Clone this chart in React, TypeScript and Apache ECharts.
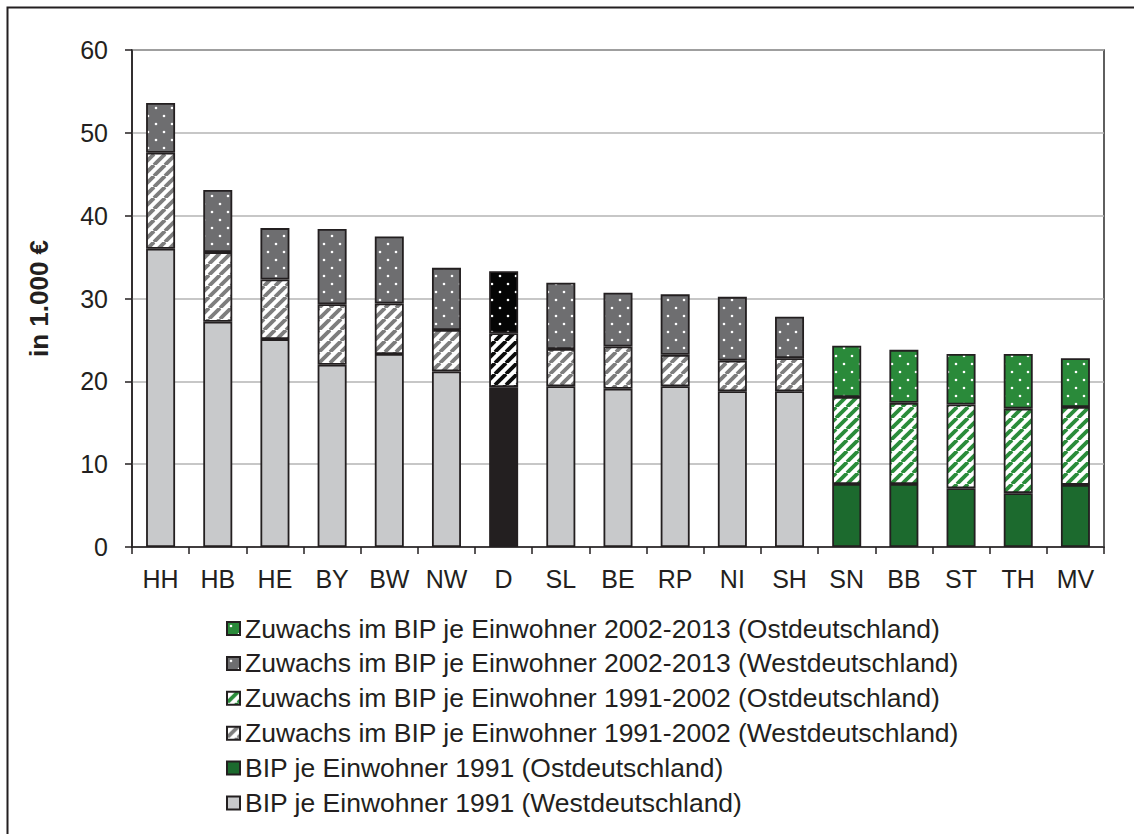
import React, { useEffect, useRef } from "react";
import * as echarts from "echarts";

const categories = ["HH", "HB", "HE", "BY", "BW", "NW", "D", "SL", "BE", "RP", "NI", "SH", "SN", "BB", "ST", "TH", "MV"];
// cumulative levels (in 1.000 €)
const level1991 = [36.0, 27.2, 25.1, 22.0, 23.3, 21.2, 19.3, 19.4, 19.1, 19.4, 18.8, 18.8, 7.6, 7.6, 7.1, 6.5, 7.5];
const level2002 = [47.6, 35.6, 32.3, 29.3, 29.4, 26.2, 25.8, 23.9, 24.2, 23.2, 22.5, 22.8, 18.1, 17.4, 17.2, 16.7, 16.9];
const level2013 = [53.6, 43.1, 38.5, 38.4, 37.5, 33.7, 33.3, 31.9, 30.7, 30.5, 30.2, 27.8, 24.3, 23.8, 23.3, 23.3, 22.8];
const eastStates = ["SN", "BB", "ST", "TH", "MV"];
const germany = "D";
const yTicks = { min: 0, max: 60, interval: 10 };

const names = {
  base: "BIP je Einwohner 1991",
  mid: "Zuwachs im BIP je Einwohner 1991-2002",
  top: "Zuwachs im BIP je Einwohner 2002-2013",
};
const ost = " (Ostdeutschland)";
const west = " (Westdeutschland)";

const FONT = '"Liberation Sans", Arial, Helvetica, sans-serif';

function stripeTile(fg: string, bg = "#ffffff") {
  const s = 11;
  const c = document.createElement("canvas");
  c.width = s;
  c.height = s;
  const ctx = c.getContext("2d")!;
  ctx.fillStyle = bg;
  ctx.fillRect(0, 0, s, s);
  ctx.strokeStyle = fg;
  ctx.lineWidth = 3.8;
  for (let k = -1; k <= 1; k++) {
    ctx.beginPath();
    ctx.moveTo(k * s, s);
    ctx.lineTo(k * s + s, 0);
    ctx.stroke();
  }
  return { image: c.toDataURL(), repeat: "repeat" as const };
}

function dotTile(bg: string, dot = "#ffffff") {
  const s = 16;
  const c = document.createElement("canvas");
  c.width = s;
  c.height = s;
  const ctx = c.getContext("2d")!;
  ctx.fillStyle = bg;
  ctx.fillRect(0, 0, s, s);
  ctx.fillStyle = dot;
  [[4, 4], [12, 12]].forEach(([x, y]) => {
    ctx.beginPath();
    ctx.arc(x, y, 1.3, 0, Math.PI * 2);
    ctx.fill();
  });
  return { image: c.toDataURL(), repeat: "repeat" as const };
}

export default function App() {
  const ref = useRef<HTMLDivElement>(null);

  useEffect(() => {
    if (!ref.current) return;
    const chart = echarts.init(ref.current, undefined, { renderer: "svg" });

    const col = {
      westBase: "#c8c9cb",
      eastBase: "#1c6a2e",
      dBase: "#231f20",
      westMid: stripeTile("#7d7d7d"),
      eastMid: stripeTile("#2a8c3a"),
      dMid: stripeTile("#0c0c0c"),
      westTop: dotTile("#6e6e70"),
      eastTop: dotTile("#2a8a3a"),
      dTop: dotTile("#050505"),
    };

    const baseInc = level1991;
    const midInc = level2002.map((v, i) => +(v - level1991[i]).toFixed(2));
    const topInc = level2013.map((v, i) => +(v - level2002[i]).toFixed(2));

    const isEast = (c: string) => eastStates.includes(c);
    const border = { borderColor: "#231f20", borderWidth: 1.8 };

    const westData = (arr: number[], dColor: any) =>
      categories.map((c, i) =>
        isEast(c) ? "-" : c === germany ? { value: arr[i], itemStyle: { color: dColor } } : arr[i]
      );
    const eastData = (arr: number[]) => categories.map((c, i) => (isEast(c) ? arr[i] : "-"));

    const mk = (name: string, data: any[], color: any) => ({
      name,
      type: "bar",
      stack: "total",
      barWidth: 29,
      data,
      itemStyle: { color, ...border },
      emphasis: { disabled: true },
    });

    const series = [
      mk(names.base + west, westData(baseInc, col.dBase), col.westBase),
      mk(names.base + ost, eastData(baseInc), col.eastBase),
      mk(names.mid + west, westData(midInc, col.dMid), col.westMid),
      mk(names.mid + ost, eastData(midInc), col.eastMid),
      mk(names.top + west, westData(topInc, col.dTop), col.westTop),
      mk(names.top + ost, eastData(topInc), col.eastTop),
    ];

    chart.setOption({
      animation: false,
      backgroundColor: "#ffffff",
      textStyle: { fontFamily: FONT },
      grid: {
        left: 132,
        right: 30,
        top: 50,
        bottom: 287,
        show: true,
        borderColor: "#2b2b2b",
        borderWidth: 1.5,
        backgroundColor: "transparent",
      },
      graphic: [
        {
          type: "rect",
          shape: { x: 7.5, y: 7.5, width: 1300, height: 1000 },
          style: { fill: "none", stroke: "#231f20", lineWidth: 2 },
          silent: true,
        },
      ],
      legend: {
        orient: "vertical",
        left: 226,
        top: 615,
        padding: 0,
        itemWidth: 13,
        itemHeight: 13,
        itemGap: 7.9,
        icon: "rect",
        selectedMode: false,
        textStyle: { fontFamily: FONT, fontSize: 26.5, color: "#231f20", lineHeight: 26 },
        data: [
          names.top + ost,
          names.top + west,
          names.mid + ost,
          names.mid + west,
          names.base + ost,
          names.base + west,
        ],
      },
      xAxis: {
        type: "category",
        data: categories,
        axisLine: { lineStyle: { color: "#231f20", width: 1.5 } },
        axisTick: { show: true, alignWithLabel: false, length: 7, lineStyle: { color: "#231f20", width: 1.5 } },
        axisLabel: { fontSize: 25, color: "#231f20", margin: 19, fontFamily: FONT },
      },
      yAxis: {
        type: "value",
        min: yTicks.min,
        max: yTicks.max,
        interval: yTicks.interval,
        name: "in 1.000 €",
        nameLocation: "middle",
        nameRotate: 90,
        nameGap: 80,
        nameTextStyle: { fontSize: 26, fontWeight: "bold", color: "#231f20", fontFamily: FONT },
        axisLine: { show: true, lineStyle: { color: "#231f20", width: 1.5 } },
        axisTick: { show: true, length: 7, lineStyle: { color: "#231f20", width: 1.5 } },
        axisLabel: { fontSize: 25, color: "#231f20", margin: 24, fontFamily: FONT },
        splitLine: { lineStyle: { color: "#b4b4b4", width: 1.5 } },
      },
      series,
    });

    return () => chart.dispose();
  }, []);

  return (
    <div
      ref={ref}
      style={{ position: "fixed", left: 0, top: 0, width: 1134, height: 834, background: "#fff" }}
    />
  );
}
